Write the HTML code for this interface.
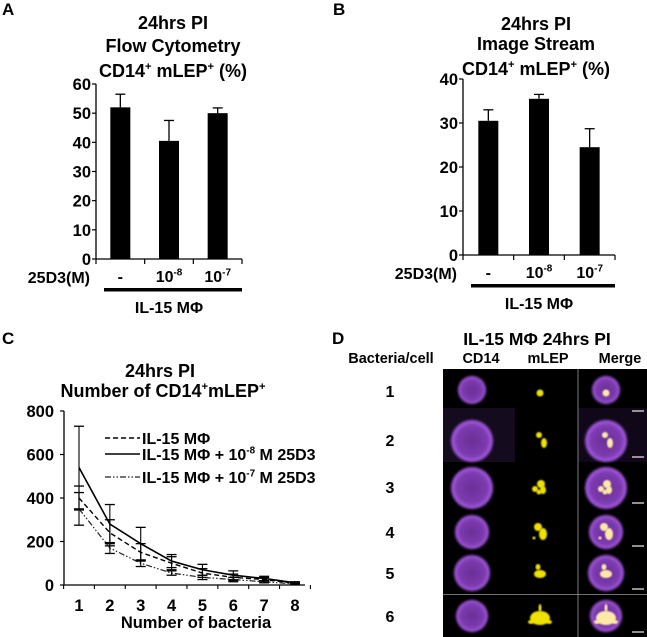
<!DOCTYPE html>
<html><head><meta charset="utf-8"><style>
html,body{margin:0;padding:0;background:#fff;}
svg{display:block;font-family:"Liberation Sans",Arial,sans-serif;font-weight:bold;}
</style></head><body>
<svg id="fig" width="647" height="637" viewBox="0 0 647 637" xmlns="http://www.w3.org/2000/svg">
<defs>
<filter id="blur1"><feGaussianBlur stdDeviation="1.4"/></filter>
<filter id="blur2"><feGaussianBlur stdDeviation="0.8"/></filter>
<radialGradient id="cellg"><stop offset="0" stop-color="#6a2f96"/><stop offset="0.75" stop-color="#7d3bb0"/><stop offset="0.92" stop-color="#a358e0"/><stop offset="1" stop-color="#9a50d4"/></radialGradient>
</defs>
<g id="panelA"></g>
<g id="panelB"></g>
<g id="panelC"></g>
<g id="panelD"></g>
</svg>
<script>
// Panel A data
const aCategories = ["-", "10-8", "10-7"];
const aValues = [52, 40.5, 50];
const aErrors = [4.5, 7, 1.8];
const aTicks = [0, 10, 20, 30, 40, 50, 60];
// Panel B data
const bCategories = ["-", "10-8", "10-7"];
const bValues = [30.5, 35.5, 24.5];
const bErrors = [2.5, 1, 4.2];
const bTicks = [0, 10, 20, 30, 40];
// Panel C data
const cX = [1, 2, 3, 4, 5, 6, 7, 8];
const cTicks = [0, 200, 400, 600, 800];
const cSeriesNames = ["IL-15 MΦ", "IL-15 MΦ + 10-8 M 25D3", "IL-15 MΦ + 10-7 M 25D3"];
const cDashed = [400, 240, 150, 100, 55, 35, 25, 8];
const cDashedErr = [55, 60, 40, 30, 20, 15, 10, 5];
const cSolid = [540, 280, 190, 110, 70, 45, 30, 10];
const cSolidErr = [190, 90, 75, 30, 25, 20, 10, 5];
const cDashDot = [350, 170, 100, 55, 35, 25, 15, 5];
const cDashDotErr = [75, 25, 15, 10, 10, 10, 5, 3];

const NS = "http://www.w3.org/2000/svg";
function mk(parent, tag, attrs, text) {
  const e = document.createElementNS(NS, tag);
  for (const k in attrs) e.setAttribute(k, attrs[k]);
  if (text !== undefined) e.textContent = text;
  parent.appendChild(e);
  return e;
}
// parts: [text, isSup]
function supText(parent, x, y, parts, size, anchor) {
  const t = mk(parent, "text", {x: x, y: y, "font-size": size, "text-anchor": anchor || "middle", fill: "#000"});
  let prevSup = false;
  parts.forEach(p => {
    const s = document.createElementNS(NS, "tspan");
    s.textContent = p[0];
    if (p[1]) { s.setAttribute("font-size", size * 0.62); if (!prevSup) s.setAttribute("dy", -size * 0.4); }
    else { s.setAttribute("font-size", size); if (prevSup) s.setAttribute("dy", size * 0.4); }
    prevSup = !!p[1];
    t.appendChild(s);
  });
  return t;
}

function barPanel(g, cfg) {
  const yS = v => cfg.y0 - (v / cfg.ymax) * (cfg.y0 - cfg.yTop);
  mk(g, "text", {x: cfg.labelX, y: cfg.labelY, "font-size": 17, fill: "#000"}, cfg.letter);
  cfg.titles.forEach((t, i) => {
    const e = i < 2 ? mk(g, "text", {x: cfg.tx, y: cfg.tys[i], "font-size": 18, "text-anchor": "middle"}, t)
      : supText(g, cfg.tx, cfg.tys[i], [["CD14"], ["+", 1], [" mLEP"], ["+", 1], [" (%)"]], 18);
    
    
  });
  mk(g, "line", {x1: cfg.ax, y1: cfg.yTop, x2: cfg.ax, y2: cfg.y0, stroke: "#000", "stroke-width": 1.3});
  mk(g, "line", {x1: cfg.ax, y1: cfg.y0, x2: cfg.axEnd, y2: cfg.y0, stroke: "#000", "stroke-width": 1.3});
  cfg.ticks.forEach(v => {
    mk(g, "line", {x1: cfg.ax - 4, y1: yS(v), x2: cfg.ax, y2: yS(v), stroke: "#000", "stroke-width": 1.2});
    const t = mk(g, "text", {x: cfg.ax - 5, y: yS(v) + 6, "font-size": 16.5, "text-anchor": "end"}, v);
    
    
  });
  const slot = (cfg.axEnd - cfg.ax) / cfg.values.length;
  for (let i = 0; i <= cfg.values.length; i++) {
    mk(g, "line", {x1: cfg.ax + slot * i, y1: cfg.y0, x2: cfg.ax + slot * i, y2: cfg.y0 + 5, stroke: "#000", "stroke-width": 1.2});
  }
  cfg.values.forEach((v, i) => {
    const cx = cfg.ax + slot * (i + 0.5);
    const top = yS(v + cfg.errors[i]);
    mk(g, "line", {x1: cx, y1: yS(v), x2: cx, y2: top, stroke: "#000", "stroke-width": 1.3});
    mk(g, "line", {x1: cx - 5, y1: top, x2: cx + 5, y2: top, stroke: "#000", "stroke-width": 1.3});
    const b = mk(g, "rect", {x: cx - 10, y: yS(v), width: 20, height: cfg.y0 - yS(v), fill: "#000"});
    
    
    const cat = cfg.cats[i];
    let lab;
    if (cat === "-") lab = mk(g, "text", {x: cx, y: cfg.y0 + 23, "font-size": 16, "text-anchor": "middle"}, "-");
    else lab = supText(g, cx, cfg.y0 + 23, [["10"], [cat.slice(2), 1]], 16);
    
    
  });
  const d = mk(g, "text", {x: cfg.ax - 6, y: cfg.y0 + 24, "font-size": 16, "text-anchor": "end"}, "25D3(M)");
  
  mk(g, "rect", {x: cfg.ax + 8, y: cfg.y0 + 29, width: cfg.axEnd - cfg.ax - 8, height: 3.5, fill: "#000"});
  const il = mk(g, "text", {x: (cfg.ax + cfg.axEnd) / 2, y: cfg.y0 + 54, "font-size": 16, "text-anchor": "middle"}, "IL-15 MΦ");
  
}

barPanel(document.getElementById("panelA"), {letter: "A", labelX: 2, labelY: 15, titles: ["24hrs PI", "Flow Cytometry", ""], tx: 173, tys: [29, 52, 77],
  ax: 96, axEnd: 242, yTop: 84, y0: 259, ymax: 60, ticks: aTicks, values: aValues, errors: aErrors, cats: aCategories});
barPanel(document.getElementById("panelB"), {letter: "B", labelX: 333, labelY: 15, titles: ["24hrs PI", "Image Stream", ""], tx: 536, tys: [30, 50, 75],
  ax: 463, axEnd: 615, yTop: 79, y0: 255, ymax: 40, ticks: bTicks, values: bValues, errors: bErrors, cats: bCategories});

// Panel C
(function () {
  const g = document.getElementById("panelC");
  const ax = 64, y0 = 585, yTop = 411, ymax = 800;
  const xS = n => 79 + (n - 1) * (295 - 79) / 7;
  const yS = v => y0 - v / ymax * (y0 - yTop);
  mk(g, "text", {x: 2, y: 344, "font-size": 17}, "C");
  mk(g, "text", {x: 160, y: 377, "font-size": 18, "text-anchor": "middle"}, "24hrs PI");
  supText(g, 163, 397, [["Number of CD14"], ["+", 1], ["mLEP"], ["+", 1]], 18);
  mk(g, "line", {x1: ax, y1: yTop, x2: ax, y2: y0, stroke: "#000", "stroke-width": 1.3});
  mk(g, "line", {x1: ax, y1: y0, x2: 305, y2: y0, stroke: "#000", "stroke-width": 1.3});
  cTicks.forEach(v => {
    mk(g, "line", {x1: ax - 4, y1: yS(v), x2: ax, y2: yS(v), stroke: "#000", "stroke-width": 1.2});
    const t = mk(g, "text", {x: 54, y: yS(v) + 6, "font-size": 16.5, "text-anchor": "end"}, v);
    
  });
  cX.forEach(n => {
    mk(g, "line", {x1: xS(n) + 15.4, y1: y0, x2: xS(n) + 15.4, y2: y0 + 4, stroke: "#000", "stroke-width": 1.1});
    const t = mk(g, "text", {x: xS(n), y: 611, "font-size": 16.5, "text-anchor": "middle"}, n);
    
  });
  mk(g, "line", {x1: xS(1) - 15.4, y1: y0, x2: xS(1) - 15.4, y2: y0 + 4, stroke: "#000", "stroke-width": 1.1});
  mk(g, "text", {x: 196, y: 628, "font-size": 16.5, "text-anchor": "middle"}, "Number of bacteria");
  const series = [
    {vals: cDashed, err: cDashedErr, dash: "5,3", color: "#000", w: 1.4, name: "series-il15"},
    {vals: cSolid, err: cSolidErr, dash: "none", color: "#000", w: 1.6, name: "series-1e-8"},
    {vals: cDashDot, err: cDashDotErr, dash: "6,2,1.5,2,1.5,2", color: "#222", w: 1.2, name: "series-1e-7"}
  ];
  series.forEach(s => {
    let d = "";
    s.vals.forEach((v, i) => { d += (i ? "L" : "M") + xS(cX[i]) + "," + yS(v); });
    const p = mk(g, "path", {d: d, fill: "none", stroke: s.color, "stroke-width": s.w, "stroke-dasharray": s.dash});
    
    
    s.vals.forEach((v, i) => {
      const x = xS(cX[i]);
      const hi = yS(v + s.err[i]), lo = yS(Math.max(0, v - s.err[i]));
      mk(g, "line", {x1: x, y1: hi, x2: x, y2: lo, stroke: "#000", "stroke-width": 1.1});
      mk(g, "line", {x1: x - 5, y1: hi, x2: x + 5, y2: hi, stroke: "#000", "stroke-width": 1.3});
      mk(g, "line", {x1: x - 5, y1: lo, x2: x + 5, y2: lo, stroke: "#000", "stroke-width": 1.3});
    });
  });
  const legY = [438, 454, 477];
  const exps = [null, "-8", "-7"];
  series.forEach((s, i) => {
    mk(g, "line", {x1: 105, y1: legY[i], x2: 140, y2: legY[i], stroke: s.color, "stroke-width": s.w, "stroke-dasharray": s.dash});
    let t;
    if (!exps[i]) t = mk(g, "text", {x: 142, y: legY[i] + 6, "font-size": 16}, cSeriesNames[i]);
    else t = supText(g, 142, legY[i] + 6, [["IL-15 MΦ + 10"], [exps[i], 1], [" M 25D3"]], 16, "start");
    
    
  });
})();

// Panel D (micrographs)
(function () {
  const g = document.getElementById("panelD");
  mk(g, "text", {x: 332, y: 344, "font-size": 17}, "D");
  mk(g, "text", {x: 537, y: 345, "font-size": 17.5, "text-anchor": "middle"}, "IL-15 MΦ 24hrs PI");
  mk(g, "text", {x: 391, y: 363, "font-size": 14.5, "text-anchor": "middle"}, "Bacteria/cell");
  mk(g, "text", {x: 481, y: 363, "font-size": 14.5, "text-anchor": "middle"}, "CD14");
  mk(g, "text", {x: 548, y: 363, "font-size": 14.5, "text-anchor": "middle"}, "mLEP");
  mk(g, "text", {x: 620, y: 363, "font-size": 14.5, "text-anchor": "middle"}, "Merge");
  mk(g, "rect", {x: 443, y: 369, width: 204, height: 268, fill: "#000"});
  mk(g, "rect", {x: 443, y: 408, width: 72, height: 54, fill: "#140b1e"});
  mk(g, "rect", {x: 578, y: 408, width: 69, height: 54, fill: "#100818"});
  mk(g, "line", {x1: 578, y1: 369, x2: 578, y2: 637, stroke: "#999", "stroke-width": 0.8});
  mk(g, "line", {x1: 443, y1: 594.5, x2: 647, y2: 594.5, stroke: "#999", "stroke-width": 0.8});
  const rows = [
    {n: 1, cy: 390, r: 14, ty: 397, sb: 411, spots: [[0, 3, 3.5, 3.5]]},
    {n: 2, cy: 441, r: 21, ty: 446, sb: 457, spots: [[-1, -6, 3, 3], [4, 2, 3, 5]]},
    {n: 3, cy: 488, r: 21, ty: 493, sb: 503, spots: [[-5, 1, 3, 3], [1, -4, 4, 4], [3, 2, 3, 4], [-1, 4, 2.5, 2.5]]},
    {n: 4, cy: 532, r: 17, ty: 538, sb: 546, spots: [[-2, -5, 4, 4], [3, 2, 4, 6], [-6, 6, 1.5, 1.5]]},
    {n: 5, cy: 573, r: 18, ty: 579, sb: 589, spots: [[-2, -6, 2.5, 3], [0, 1, 6, 4]]},
    {n: 6, cy: 616, r: 16, ty: 622, sb: 632, spots: [[0, 2, 10, 7], [0, -8, 1.5, 4], [-9, 6, 3, 2], [9, 6, 3, 2]]}
  ];
  rows.forEach(r => {
    const t = mk(g, "text", {x: 390, y: r.ty, "font-size": 16, "text-anchor": "middle"}, r.n);
    
    [472, 606].forEach((cx, k) => {
      const c = mk(g, "circle", {cx: cx, cy: r.cy, r: r.r, fill: "url(#cellg)", filter: "url(#blur1)"});
      
      
    });
    r.spots.forEach(s => {
      mk(g, "ellipse", {cx: 540 + s[0], cy: r.cy + s[1], rx: s[2], ry: s[3], fill: "#f0e000", filter: "url(#blur2)"});
      mk(g, "ellipse", {cx: 606 + s[0], cy: r.cy + s[1], rx: s[2], ry: s[3], fill: "#ffe9a8", filter: "url(#blur2)"});
    });
    const sb = mk(g, "line", {x1: 632, y1: r.sb, x2: 644, y2: r.sb, stroke: "#ddd", "stroke-width": 1.3});
    
    
  });
})();
</script>
</body></html>
